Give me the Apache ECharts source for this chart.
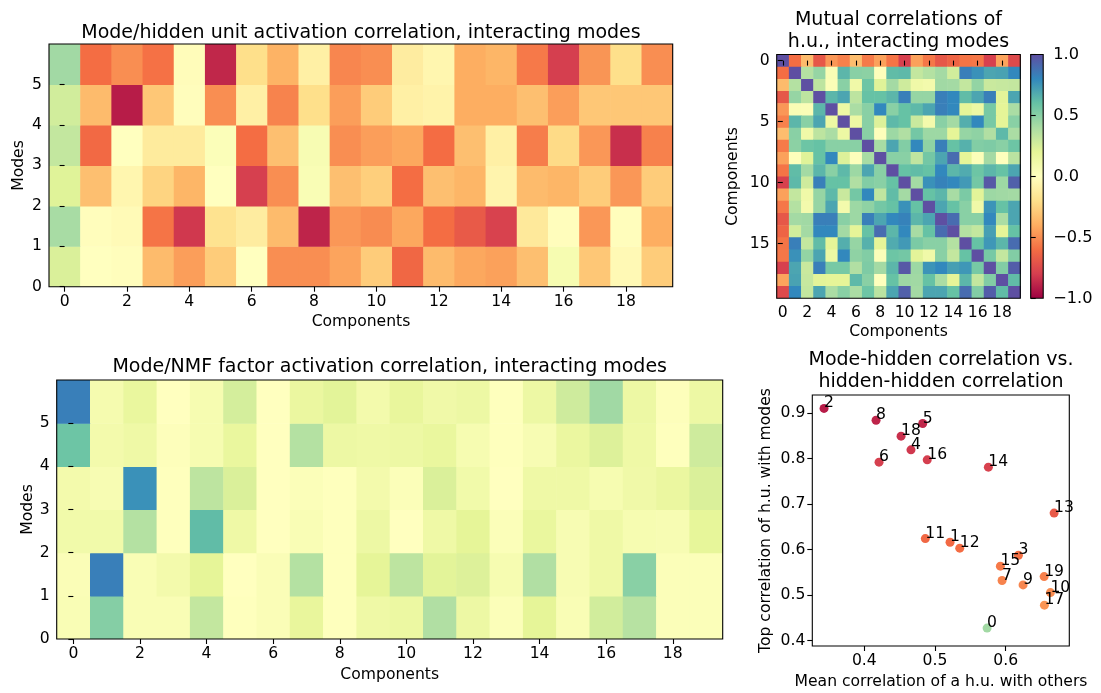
<!DOCTYPE html>
<html><head><meta charset="utf-8">
<script src="https://cdn.jsdelivr.net/npm/echarts@6/dist/echarts.min.js"></script>
<style>html,body{margin:0;padding:0;background:#fff}#c{width:1101px;height:693px}</style>
</head><body><div id="c"></div>
<script>
// ---------------- data ----------------
const components = [0,1,2,3,4,5,6,7,8,9,10,11,12,13,14,15,16,17,18,19];
const modes = [0,1,2,3,4,5];
const heatXTicks = [0,2,4,6,8,10,12,14,16,18];
const modeYTicks = [0,1,2,3,4,5];
const hhYTicks = [0,5,10,15];
const cbTicks = [-1,-0.5,0,0.5,1];
const scatterXTicks = [0.4,0.5,0.6];
const scatterYTicks = [0.4,0.5,0.6,0.7,0.8,0.9];

// mode/hidden unit correlation, rows = modes 0..5, columns = components 0..19
const modeHidden0 = [0.24,0.0,-0.01,-0.35,-0.45,-0.28,0.0,-0.5,-0.5,-0.43,-0.28,-0.624,-0.35,-0.42,-0.44,-0.33,0.07,-0.3,-0.04,-0.28];
const modeHidden1 = [0.41,-0.01,-0.03,-0.58,-0.819,-0.18,-0.12,-0.35,-0.884,-0.47,-0.505,-0.42,-0.6,-0.68,-0.781,-0.14,-0.01,-0.47,-0.01,-0.4];
const modeHidden2 = [0.22,-0.33,-0.06,-0.25,-0.37,0.0,-0.792,-0.5,0.05,-0.33,-0.27,-0.6,-0.33,-0.37,-0.07,-0.35,-0.37,-0.28,-0.47,-0.28];
const modeHidden3 = [0.32,-0.616,0.0,-0.13,-0.13,0.03,-0.6,-0.33,0.06,-0.5,-0.45,-0.42,-0.603,-0.33,-0.1,-0.55,-0.22,-0.47,-0.849,-0.54];
const modeHidden4 = [0.27,-0.35,-0.91,-0.3,-0.01,-0.5,-0.1,-0.532,-0.2,-0.45,-0.28,-0.1,-0.08,-0.4,-0.4,-0.33,-0.45,-0.3,-0.3,-0.3];
const modeHidden5 = [0.427,-0.6,-0.5,-0.587,-0.02,-0.877,-0.2,-0.38,-0.1,-0.522,-0.5,-0.12,-0.06,-0.4,-0.37,-0.563,-0.797,-0.478,-0.2,-0.5];
const modeHidden = [modeHidden0,modeHidden1,modeHidden2,modeHidden3,modeHidden4,modeHidden5];

// mode/NMF factor correlation, rows = modes 0..5
const nmf0 = [0.05,0.51,0.05,0.05,0.32,0.01,0.04,0.18,0.01,0.13,0.15,0.38,0.14,0.03,0.2,0.05,0.27,0.36,0.03,0.03];
const nmf1 = [0.04,0.83,0.05,0.1,0.2,0.0,0.04,0.37,0.01,0.2,0.34,0.21,0.23,0.07,0.38,0.06,0.13,0.5,0.03,0.03];
const nmf2 = [0.11,0.11,0.37,0.01,0.62,0.13,0.0,0.05,0.01,0.14,0.0,0.13,0.2,0.03,0.17,0.06,0.13,0.07,0.06,0.19];
const nmf3 = [0.1,0.06,0.77,0.01,0.34,0.24,0.0,0.03,0.01,0.1,0.03,0.24,0.11,0.0,0.13,0.13,0.07,0.12,0.16,0.24];
const nmf4 = [0.58,0.1,0.13,0.02,0.07,0.17,0.0,0.37,0.14,0.13,0.14,0.17,0.07,0.01,0.06,0.16,0.23,0.13,0.01,0.28];
const nmf5 = [0.83,0.08,0.17,0.0,0.07,0.26,0.0,0.16,0.21,0.1,0.18,0.12,0.14,0.01,0.14,0.28,0.43,0.14,0.02,0.14];
const nmf = [nmf0,nmf1,nmf2,nmf3,nmf4,nmf5];

// mutual correlations of hidden units (20 x 20)
const hh = [
 [1,-0.6,-0.35,-0.69,-0.47,-0.54,-0.34,-0.56,-0.44,-0.58,-0.79,-0.44,-0.57,-0.69,-0.64,-0.58,-0.57,-0.79,-0.43,-0.75],
 [-0.6,1,0.37,0.46,0.05,0.64,0.5,0.49,0.02,0.62,0.63,0.32,0.37,0.42,0.27,0.83,0.77,0.7,0.71,0.8],
 [-0.35,0.37,1,0.34,0.04,0.5,0.12,0.58,0.22,0.42,0.28,0.12,0.1,0.43,0.42,0.32,0.47,0.3,0.31,0.32],
 [-0.69,0.46,0.34,1,0.64,0.7,0.34,0.6,0.6,0.64,0.83,0.46,0.46,0.83,0.8,0.62,0.7,0.83,0.21,0.7],
 [-0.47,0.05,0.04,0.64,1,0.14,0.4,0.5,0.8,0.5,0.6,0.63,0.7,0.83,0.8,0.2,0.14,0.55,0.2,0.4],
 [-0.54,0.64,0.5,0.7,0.14,1,0.14,0.5,0.23,0.63,0.6,0.3,0.1,0.5,0.42,0.67,0.8,0.55,0.2,0.5],
 [-0.34,0.5,0.12,0.34,0.4,0.14,1,0.5,0.02,0.44,0.38,0.56,0.44,0.44,0.2,0.46,0.48,0.38,0.63,0.4],
 [-0.56,0.49,0.58,0.6,0.5,0.5,0.5,1,0.41,0.7,0.52,0.8,0.48,0.83,0.6,0.66,0.52,0.53,0.5,0.58],
 [-0.44,0.02,0.22,0.6,0.8,0.23,0.02,0.41,1,0.5,0.5,0.33,0.56,0.7,0.9,0.2,0.03,0.42,0.01,0.35],
 [-0.58,0.62,0.42,0.64,0.5,0.63,0.44,0.7,0.5,1,0.6,0.62,0.6,0.8,0.64,0.68,0.58,0.64,0.6,0.7],
 [-0.79,0.63,0.28,0.83,0.6,0.6,0.38,0.52,0.5,0.6,1,0.42,0.77,0.82,0.8,0.74,0.56,0.97,0.44,0.94],
 [-0.44,0.32,0.12,0.46,0.63,0.3,0.56,0.8,0.33,0.62,0.42,1,0.6,0.64,0.41,0.54,0.21,0.44,0.43,0.42],
 [-0.57,0.37,0.1,0.46,0.7,0.1,0.44,0.48,0.56,0.6,0.77,0.6,1,0.7,0.6,0.5,0.12,0.76,0.6,0.7],
 [-0.69,0.42,0.43,0.83,0.83,0.5,0.44,0.83,0.7,0.8,0.82,0.64,0.7,1,0.9,0.5,0.5,0.8,0.4,0.7],
 [-0.64,0.27,0.42,0.8,0.8,0.42,0.2,0.6,0.9,0.64,0.8,0.41,0.6,0.9,1,0.37,0.32,0.72,0.2,0.6],
 [-0.58,0.83,0.32,0.62,0.2,0.67,0.46,0.66,0.2,0.68,0.74,0.54,0.5,0.5,0.37,1,0.6,0.75,0.64,0.9],
 [-0.57,0.77,0.47,0.7,0.14,0.8,0.48,0.52,0.03,0.58,0.56,0.21,0.12,0.5,0.32,0.6,1,0.55,0.32,0.52],
 [-0.79,0.7,0.3,0.83,0.55,0.55,0.38,0.53,0.42,0.64,0.97,0.44,0.76,0.8,0.72,0.75,0.55,1,0.52,0.95],
 [-0.43,0.71,0.31,0.21,0.2,0.2,0.63,0.5,0.01,0.6,0.44,0.43,0.6,0.4,0.2,0.64,0.32,0.52,1,0.62],
 [-0.75,0.8,0.32,0.7,0.4,0.5,0.4,0.58,0.35,0.7,0.94,0.42,0.7,0.7,0.6,0.9,0.52,0.95,0.62,1]
];

// scatter: mean correlation with others vs. top (signed) correlation with modes
const meanCorr = [0.5737,0.5213,0.343,0.618,0.466,0.4826,0.4208,0.5949,0.4166,0.6246,0.6633,0.4863,0.535,0.6685,0.5755,0.5925,0.489,0.6548,0.452,0.6544];
const topCorr = [0.4273,-0.616,-0.910,-0.5875,-0.819,-0.877,-0.792,-0.532,-0.884,-0.5223,-0.5054,-0.624,-0.603,-0.680,-0.781,-0.5634,-0.797,-0.4777,-0.849,-0.5405];
const pointLabels = ['0','1','2','3','4','5','6','7','8','9','10','11','12','13','14','15','16','17','18','19'];

// ---------------- helpers ----------------
const SPECTRAL = ['#9e0142','#d53e4f','#f46d43','#fdae61','#fee08b','#ffffbf','#e6f598','#abdda4','#66c2a5','#3288bd','#5e4fa2'];
function hexRgb(h){return [parseInt(h.slice(1,3),16),parseInt(h.slice(3,5),16),parseInt(h.slice(5,7),16)];}
const SPEC_RGB = SPECTRAL.map(hexRgb);
function spectral(v){
  let t = (v + 1) / 2; t = Math.max(0, Math.min(1, t));
  const p = t * 10; let i = Math.floor(p); if (i >= 10) i = 9;
  const f = p - i, a = SPEC_RGB[i], b = SPEC_RGB[i+1];
  return 'rgb(' + [0,1,2].map(k => Math.round(a[k] + (b[k]-a[k]) * f)).join(',') + ')';
}
const FONT = 'DejaVu Sans';
const TICK_FS = 15.6;

function cellRender(yLowOffset, yHighOffset){
  return function(params, api){
    const c = api.value(0), r = api.value(1), v = api.value(2);
    const p0 = api.coord([c - 0.5, r + yLowOffset]);
    const p1 = api.coord([c + 0.5, r + yHighOffset]);
    const x = Math.min(p0[0], p1[0]), y = Math.min(p0[1], p1[1]);
    return {type:'rect', shape:{x:x, y:y, width:Math.abs(p1[0]-p0[0]) + 0.6, height:Math.abs(p1[1]-p0[1]) + 0.6},
            style:{fill: spectral(v)}};
  };
}
function matrixData(rows){
  const out = [];
  rows.forEach((row, r) => row.forEach((v, c) => out.push([components[c], r, v])));
  return out;
}

const tickStyle = {show:true, length:5, inside:false, lineStyle:{color:'#000', width:1.1}};
const labelStyle = {color:'#000', fontSize:TICK_FS, fontFamily:FONT};
const frame = {show:true, borderColor:'#000', borderWidth:1.1, backgroundColor:'transparent', z:10, outerBoundsMode:'none', containLabel:false};

function heatX(grid){
  return {gridIndex:grid, type:'value', min:-0.5, max:19.5, z:10,
    axisLine:{show:false}, splitLine:{show:false},
    axisTick:Object.assign({customValues:heatXTicks}, tickStyle),
    axisLabel:Object.assign({customValues:heatXTicks, margin:7}, labelStyle)};
}
function modeY(grid){
  return {gridIndex:grid, type:'value', min:0, max:6, z:10,
    axisLine:{show:false}, splitLine:{show:false},
    axisTick:Object.assign({customValues:modeYTicks}, tickStyle),
    axisLabel:Object.assign({customValues:modeYTicks, margin:7}, labelStyle)};
}

const cbStops = SPECTRAL.map((c, i) => ({offset: i / 10, color: c}));

const titleStyle = {fontSize:19, fontWeight:'normal', color:'#000', fontFamily:FONT, lineHeight:21.5};
function axisName(text, x, y, rotate){
  return {type:'text', x:x, y:y, rotation: rotate ? Math.PI/2 : 0, z:20,
    style:{text:text, fill:'#000', fontSize:TICK_FS, fontFamily:FONT, textAlign:'center', textVerticalAlign:'middle', align:'center', verticalAlign:'middle'}};
}

const option = {
  backgroundColor:'#fff',
  animation:false,
  title:[
    {text:'Mode/hidden unit activation correlation, interacting modes', left:361, top:22, textAlign:'center', textVerticalAlign:'top', padding:0, textStyle:titleStyle},
    {text:'Mutual correlations of\nh.u., interacting modes', left:898.5, top:9.5, textAlign:'center', textVerticalAlign:'top', padding:0, textStyle:titleStyle},
    {text:'Mode/NMF factor activation correlation, interacting modes', left:389.7, top:356.5, textAlign:'center', textVerticalAlign:'top', padding:0, textStyle:titleStyle},
    {text:'Mode-hidden correlation vs.\nhidden-hidden correlation', left:941, top:349.5, textAlign:'center', textVerticalAlign:'top', padding:0, textStyle:titleStyle}
  ],
  grid:[
    Object.assign({left:49, top:44, width:623.7, height:242.7}, frame),
    Object.assign({left:776.7, top:54.5, width:243.6, height:243.8}, frame),
    Object.assign({left:1030.7, top:54.5, width:12.5, height:243.8}, frame),
    Object.assign({left:56.7, top:380, width:666, height:259}, frame),
    Object.assign({left:812.3, top:395, width:257, height:251}, frame)
  ],
  xAxis:[
    heatX(0),
    heatX(1),
    {gridIndex:2, type:'value', min:0, max:1, show:false},
    heatX(3),
    {gridIndex:4, type:'value', min:0.3264, max:0.690, z:10,
      axisLine:{show:false}, splitLine:{show:false},
      axisTick:Object.assign({customValues:scatterXTicks}, tickStyle),
      axisLabel:Object.assign({customValues:scatterXTicks, margin:7, formatter:v => v.toFixed(1)}, labelStyle)}
  ],
  yAxis:[
    modeY(0),
    {gridIndex:1, type:'value', min:-0.5, max:19.5, inverse:true, z:10,
      axisLine:{show:false}, splitLine:{show:false},
      axisTick:Object.assign({customValues:hhYTicks}, tickStyle),
      axisLabel:Object.assign({customValues:hhYTicks, margin:7}, labelStyle)},
    {gridIndex:2, type:'value', min:-1, max:1, position:'right', z:10,
      axisLine:{show:false}, splitLine:{show:false},
      axisTick:Object.assign({customValues:cbTicks}, tickStyle),
      axisLabel:Object.assign({customValues:cbTicks, margin:10, formatter:v => (v < 0 ? '\u2212' : '') + Math.abs(v).toFixed(1)}, labelStyle, {fontSize:16.2})},
    modeY(3),
    {gridIndex:4, type:'value', min:0.388, max:0.9395, z:10,
      axisLine:{show:false}, splitLine:{show:false},
      axisTick:Object.assign({customValues:scatterYTicks}, tickStyle),
      axisLabel:Object.assign({customValues:scatterYTicks, margin:7, formatter:v => v.toFixed(1)}, labelStyle)}
  ],
  series:[
    {type:'custom', xAxisIndex:0, yAxisIndex:0, clip:true, renderItem:cellRender(0, 1), data:matrixData(modeHidden)},
    {type:'custom', xAxisIndex:1, yAxisIndex:1, clip:true, renderItem:cellRender(-0.5, 0.5), data:matrixData(hh)},
    {type:'custom', xAxisIndex:2, yAxisIndex:2, clip:true,
      renderItem:function(params, api){
        const p0 = api.coord([0, cbTicks[cbTicks.length-1]]);
        const p1 = api.coord([1, cbTicks[0]]);
        return {type:'rect', shape:{x:p0[0], y:p0[1], width:p1[0]-p0[0], height:p1[1]-p0[1]},
          style:{fill:new echarts.graphic.LinearGradient(0, 1, 0, 0, cbStops)}};
      },
      data:[[0, 0]]},
    {type:'custom', xAxisIndex:3, yAxisIndex:3, clip:true, renderItem:cellRender(0, 1), data:matrixData(nmf)},
    {type:'scatter', xAxisIndex:4, yAxisIndex:4, symbolSize:9,
      data: meanCorr.map((x, i) => ({value:[x, Math.abs(topCorr[i])], name:pointLabels[i], itemStyle:{color:spectral(topCorr[i]), opacity:1}})),
      label:{show:true, position:['50%','50%'], align:'left', verticalAlign:'bottom', offset:[0, 3],
        formatter:p => p.name, color:'#000', fontSize:TICK_FS, fontFamily:FONT},
      emphasis:{disabled:true}}
  ],
  graphic:[
    axisName('Modes', 19, 165.5, true),
    axisName('Components', 361, 321.5, false),
    axisName('Components', 732.5, 176.5, true),
    axisName('Components', 898.5, 332, false),
    axisName('Modes', 28, 509.5, true),
    axisName('Components', 389.7, 675, false),
    axisName('Top correlation of h.u. with modes', 766, 520.5, true),
    axisName('Mean correlation of a h.u. with others', 941, 681.5, false)
  ]
};
const chart = echarts.init(document.getElementById('c'), null, {renderer:'canvas'});
chart.setOption(option);
</script></body></html>
